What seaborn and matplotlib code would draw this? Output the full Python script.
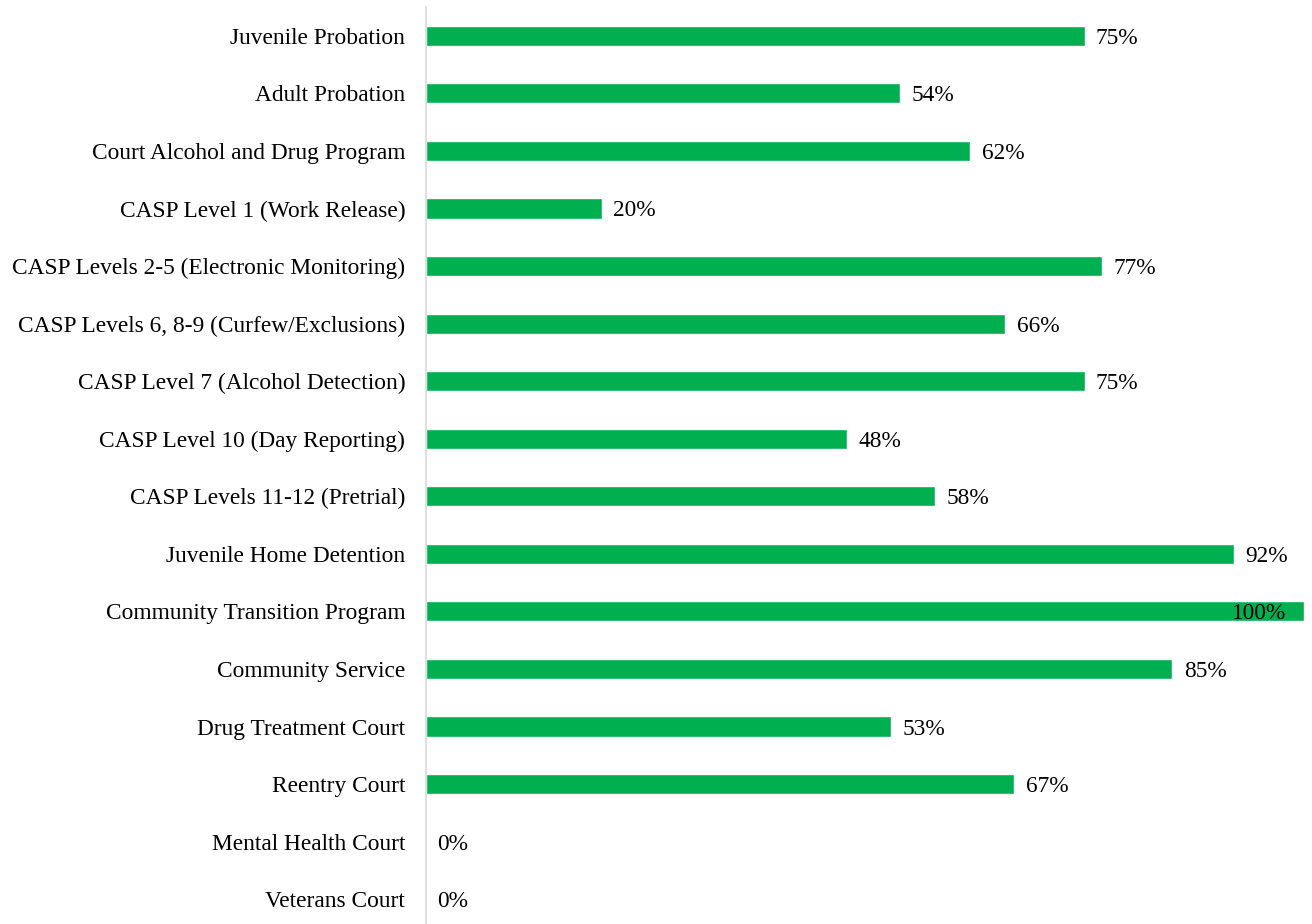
import pandas as pd
import numpy as np
import matplotlib.pyplot as plt
import seaborn as sns

# data
programs = ['Juvenile Probation', 'Adult Probation', 'Court Alcohol and Drug Program',
            'CASP Level 1 (Work Release)', 'CASP Levels 2-5 (Electronic Monitoring)',
            'CASP Levels 6, 8-9 (Curfew/Exclusions)', 'CASP Level 7 (Alcohol Detection)',
            'CASP Level 10 (Day Reporting)', 'CASP Levels 11-12 (Pretrial)',
            'Juvenile Home Detention', 'Community Transition Program', 'Community Service',
            'Drug Treatment Court', 'Reentry Court', 'Mental Health Court', 'Veterans Court']
pct = [75, 54, 62, 20, 77, 66, 75, 48, 58, 92, 100, 85, 53, 67, 0, 0]

data = pd.DataFrame({'program': programs, 'pct': pct})

sns.set_style('white')
plt.rcParams['font.family'] = ['Liberation Serif', 'DejaVu Serif']
plt.rcParams['text.color'] = 'black'

fig = plt.figure(figsize=(13.12, 9.24), dpi=100)
ax = fig.add_axes([426/1312, -4/924, 878/1312, 921/924])
sns.barplot(data=data, x='pct', y='program', color='#00B050', width=0.35,
            saturation=1, ax=ax)
ax.set_xlim(0, 100)
ax.set_ylim(len(programs) - 0.5, -0.5)
ax.set_xlabel('')
ax.set_ylabel('')
ax.set_xticks([])
for s in ['top', 'right', 'bottom']:
    ax.spines[s].set_visible(False)
ax.spines['left'].set_color('#d9d9d9')
ax.spines['left'].set_linewidth(1.2)
ax.tick_params(axis='y', length=0, pad=15, labelsize=16.8, labelcolor='black')

for i, v in enumerate(pct):
    if v >= 100:
        ax.text(v - 2, i, f'{v}%', va='center_baseline', ha='right', fontsize=16.8, color='black')
    else:
        ax.text(v + 1.3, i, f'{v}%', va='center_baseline', ha='left', fontsize=16.8, color='black')

fig.savefig('out.png', dpi=100)
